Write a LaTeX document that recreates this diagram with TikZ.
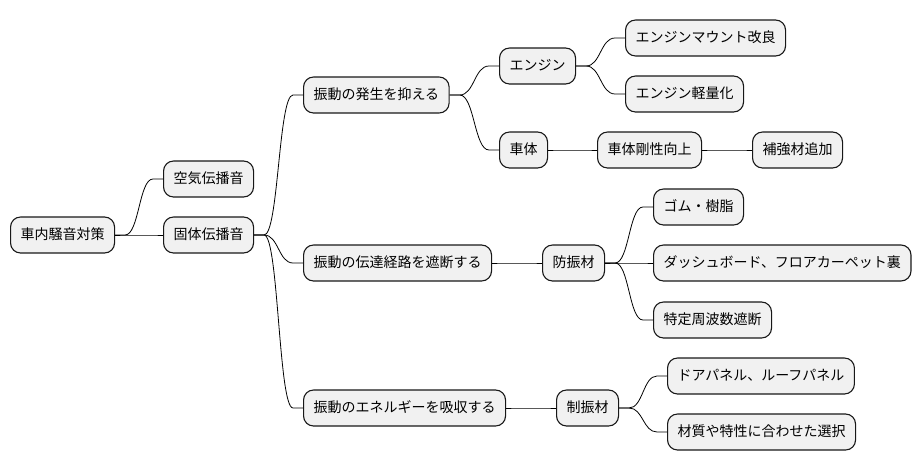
\documentclass[tikz,border=0pt]{standalone}
\usepackage{fontspec}
\setmainfont{Noto Sans CJK JP}
\usetikzlibrary{calc}
\definecolor{nodefill}{HTML}{F1F1F1}
\definecolor{nodeline}{HTML}{181818}
\tikzset{
  mm/.style={draw=nodeline, fill=nodefill, rounded corners=10pt, line width=1.1pt,
    inner xsep=10pt, inner ysep=0pt, minimum height=36pt, anchor=west,
    font=\fontsize{14pt}{16pt}\selectfont, text height=11.5pt, text depth=2.5pt},
  conn/.style={draw=black, line width=0.8pt}
}
\newcommand\mmedge[2]{%
  \draw[conn] let \p1=(#1.east), \p2=(#2.west) in
    (\p1) -- (\x1+10pt,\y1) .. controls (0.5*\x1+0.5*\x2,\y1) and (0.5*\x1+0.5*\x2,\y2) .. (\x2-10pt,\y2) -- (\p2);}
\begin{document}
\begin{tikzpicture}[x=1pt,y=-1pt]
\useasboundingbox (0,0) rectangle (922,471);
\node[mm] (root) at (10,235) {車内騒音対策};
\node[mm] (air) at (163,179) {空気伝播音};
\node[mm] (solid) at (163,235) {固体伝播音};
\node[mm] (gen) at (303,95) {振動の発生を抑える};
\node[mm] (eng) at (499,66) {エンジン};
\node[mm] (body) at (499,150) {車体};
\node[mm] (mount) at (625,38) {エンジンマウント改良};
\node[mm] (light) at (625,94) {エンジン軽量化};
\node[mm] (rigid) at (597,150) {車体剛性向上};
\node[mm] (reinf) at (752,150) {補強材追加};
\node[mm] (path) at (303,263) {振動の伝達経路を遮断する};
\node[mm] (anti) at (542,263) {防振材};
\node[mm] (rubber) at (653,207) {ゴム・樹脂};
\node[mm] (dash) at (653,263) {ダッシュボード、フロアカーペット裏};
\node[mm] (freq) at (653,320) {特定周波数遮断};
\node[mm] (absorb) at (303,408) {振動のエネルギーを吸収する};
\node[mm] (damp) at (556,408) {制振材};
\node[mm] (door) at (667,376) {ドアパネル、ルーフパネル};
\node[mm] (mat) at (667,432) {材質や特性に合わせた選択};
\mmedge{root}{air}
\mmedge{root}{solid}
\mmedge{solid}{gen}
\mmedge{gen}{eng}
\mmedge{gen}{body}
\mmedge{eng}{mount}
\mmedge{eng}{light}
\mmedge{body}{rigid}
\mmedge{rigid}{reinf}
\mmedge{solid}{path}
\mmedge{path}{anti}
\mmedge{anti}{rubber}
\mmedge{anti}{dash}
\mmedge{anti}{freq}
\mmedge{solid}{absorb}
\mmedge{absorb}{damp}
\mmedge{damp}{door}
\mmedge{damp}{mat}
\end{tikzpicture}
\end{document}
